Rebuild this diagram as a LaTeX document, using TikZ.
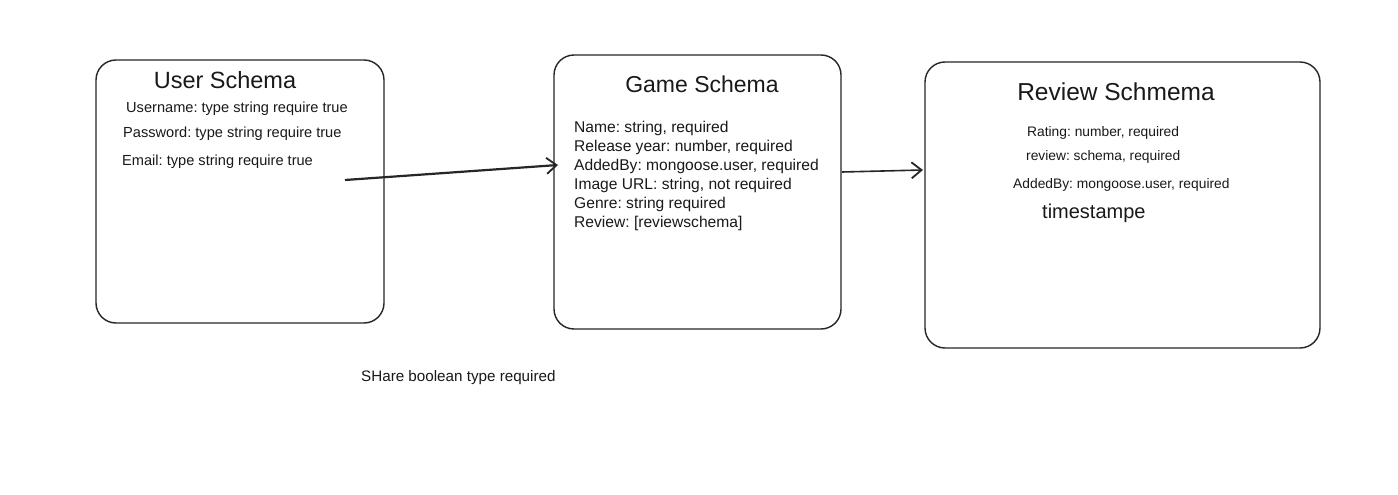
\documentclass[tikz,border=0pt]{standalone}
\usepackage{fontspec}
\setmainfont{Liberation Sans}
\frenchspacing
\usetikzlibrary{arrows.meta}
\begin{document}
\begin{tikzpicture}[x=1pt,y=-1pt,
  schemabox/.style={draw=black!85,line width=1.4pt,rounded corners=20pt},
  title/.style={font=\fontsize{23}{26}\selectfont,text=black!90},
  field/.style={anchor=west,inner sep=0pt,font=\fontsize{14.6}{17}\selectfont,text=black!90},
  link/.style={draw=black!85,line width=2.2pt,-{Straight Barb[length=10pt,width=16pt,line width=1.8pt]}}]
\useasboundingbox[fill=white] (0,0) rectangle (1398,495);
% boxes
\node[schemabox,minimum width=288pt,minimum height=263pt] (user) at (240,191.5) {};
\node[schemabox,minimum width=287pt,minimum height=274pt] (game) at (697.5,192) {};
\node[schemabox,minimum width=395pt,minimum height=286pt] (review) at (1122.5,205) {};
% titles
\node[title,font=\fontsize{23.5}{27}\selectfont] (ut) at (225,80) {User Schema};
\node[title] (gt) at (702,84) {Game Schema};
\node[title,font=\fontsize{24.5}{28}\selectfont] (rt) at (1116,92) {Review Schmema};
% user fields
\node[field] (u1) at (126,109) {Username: type string require true};
\node[field] (u2) at (123,134) {Password: type string require true};
\node[field] (u3) at (122,162) {Email: type string require true};
% game fields
\begin{scope}[every node/.style={field,font=\fontsize{15.6}{18}\selectfont}]
\node (g1) at (574,128) {Name: string, required};
\node (g2) at (574,147) {Release year: number, required};
\node (g3) at (574,166) {AddedBy: mongoose.user, required};
\node (g4) at (574,185) {Image URL: string, not required};
\node (g5) at (574,204) {Genre: string required};
\node (g6) at (574,223) {Review: [reviewschema]};
\end{scope}
% review fields
\node[field,font=\fontsize{13.8}{16}\selectfont] (r1) at (1027,133) {Rating: number, required};
\node[field,font=\fontsize{13.8}{16}\selectfont] (r2) at (1026,157) {review: schema, required};
\node[field,font=\fontsize{13.8}{16}\selectfont] (r3) at (1013,185) {AddedBy: mongoose.user, required};
\node[field,font=\fontsize{20}{23}\selectfont] (r4) at (1042,213) {timestampe};
% free text
\node[field,font=\fontsize{15.2}{18}\selectfont] (share) at (361,378) {SHare boolean type required};
% connectors
\coordinate (a1s) at (345,180);
\coordinate (a1e) at (558,165);
\coordinate (a2s) at (842,172);
\coordinate (a2e) at (923,170);
\draw[link] (a1s) -- (a1e);
\draw[link,line width=1.6pt] (a2s) -- (a2e);
\end{tikzpicture}
\end{document}
